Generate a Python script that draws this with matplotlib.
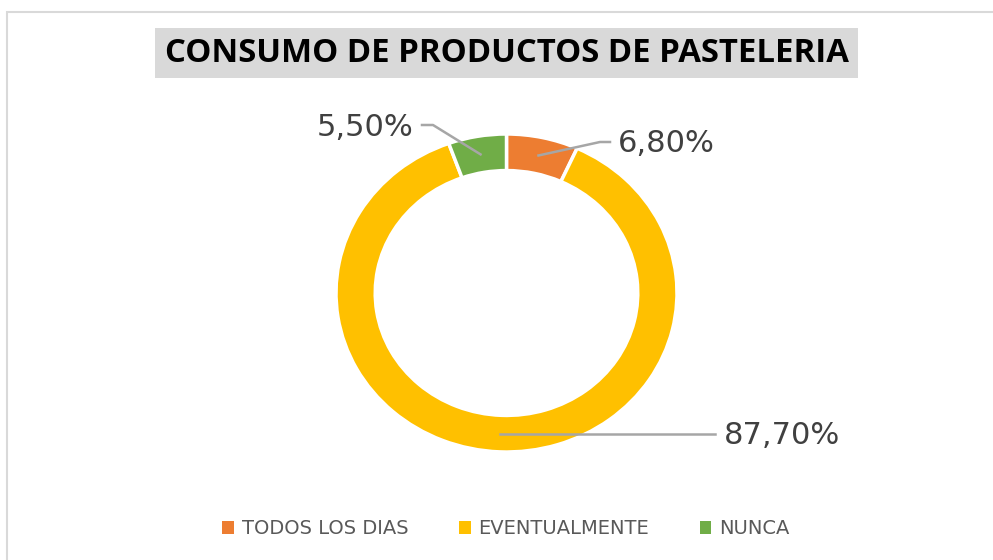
import matplotlib
matplotlib.use("Agg")
import matplotlib.pyplot as plt
import matplotlib.patches as patches
import numpy as np

# Data
categories = ["TODOS LOS DIAS", "EVENTUALMENTE", "NUNCA"]
values = [6.8, 87.7, 5.5]
value_labels = ["6,80%", "87,70%", "5,50%"]
colors = ["#ED7D31", "#FFC000", "#70AD47"]
title = "CONSUMO DE PRODUCTOS DE PASTELERIA"

W, H = 993, 560
fig = plt.figure(figsize=(W / 100, H / 100), dpi=100)
fig.patch.set_facecolor("white")


def fx(px):
    return px / W


def fy(py):
    return 1 - py / H


# Outer chart border
fig.add_artist(patches.Rectangle((fx(7), fy(575)), fx(1000) - fx(7), fy(12) - fy(575),
                                 transform=fig.transFigure, facecolor="none",
                                 edgecolor="#d9d9d9", linewidth=1.5))

# Title with gray box
fig.add_artist(patches.Rectangle((fx(155), fy(78)), fx(858) - fx(155), fy(28) - fy(78),
                                 transform=fig.transFigure, facecolor="#d9d9d9",
                                 edgecolor="none"))
t = fig.text(fx(506.5), fy(54), title, ha="center", va="center", fontsize=22,
             fontweight="bold", family="Open Sans", color="black")
r = fig.canvas.get_renderer()
w = t.get_window_extent(r).width
t.set_fontsize(22 * 683 / w)

# Donut axes (slightly stretched horizontally like the source)
cx, cy, hw, hh = 506.5, 293, 170.5, 159
ax = fig.add_axes([fx(cx - hw), fy(cy + hh), 2 * hw / W, 2 * hh / H])

wedges, _ = ax.pie(values, colors=colors, startangle=90, counterclock=False,
                   radius=1.0, wedgeprops=dict(width=0.23, edgecolor="white", linewidth=2.5))
ax.set_xlim(-1, 1)
ax.set_ylim(-1, 1)
ax.set_aspect("auto")
ax.axis("off")
for wd in wedges:
    wd.set_clip_on(False)


def d(px, py):
    return ((px - cx) / hw, (cy - py) / hh)


# label layout: elbow, line end, text anchor, ha
layout = [
    (d(600, 142), d(610, 142), d(618, 143), "left"),
    (None, d(715, 433), d(724, 436), "left"),
    (d(433, 125), d(422, 125), d(413, 128), "right"),
]

cum = np.cumsum([0] + values)
total = sum(values)
for i, wd in enumerate(wedges):
    mid = 90 - (cum[i] + values[i] / 2) / total * 360
    rr = 0.885
    p0 = (rr * np.cos(np.radians(mid)), rr * np.sin(np.radians(mid)))
    elbow, end, txt, ha = layout[i]
    if elbow is None:
        end = (end[0], p0[1])  # straight horizontal leader
    pts = [p0] + ([elbow] if elbow else []) + [end]
    xs, ys = zip(*pts)
    ax.plot(xs, ys, color="#a6a6a6", linewidth=1.8, clip_on=False, zorder=5)
    ax.text(txt[0], txt[1], value_labels[i], ha=ha, va="center", fontsize=22,
            color="#404040", clip_on=False)

# Legend
handles = [patches.Patch(facecolor=c, edgecolor="none") for c in colors]
fig.legend(handles, categories, loc="center", bbox_to_anchor=(fx(506), fy(529)),
           ncol=3, frameon=False, fontsize=14, labelcolor="#595959",
           handlelength=0.6, handleheight=0.6, handletextpad=0.4, columnspacing=2.6)

fig.savefig("out.png", dpi=100)
